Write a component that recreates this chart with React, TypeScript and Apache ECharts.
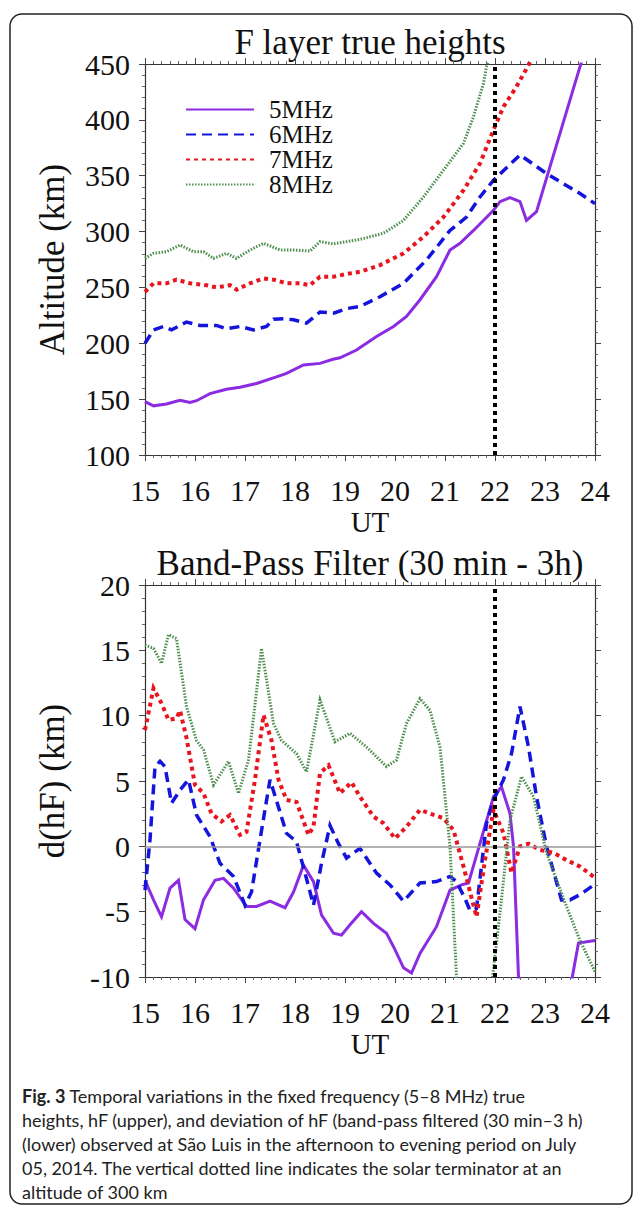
import React, { useEffect, useRef } from 'react';
import * as echarts from 'echarts';

const SERIF = '"Liberation Serif", "Times New Roman", serif';
const SANS = 'Lato, "Noto Sans", sans-serif';

// ---------- Upper panel: F layer true heights (km) ----------
const hT5 = [15, 15.17, 15.43, 15.7, 15.9, 16.03, 16.3, 16.63, 16.9, 17.23, 17.63, 17.83, 18.17, 18.5, 18.76, 18.9, 19.23, 19.63, 19.97, 20.23, 20.5, 20.83, 21.1, 21.3, 21.57, 21.97, 22.1, 22.3, 22.5, 22.63, 22.83, 23.7, 24];
const hV5 = [147.7, 144, 145.6, 149, 147, 148.6, 155, 158.8, 160.6, 164, 170, 173, 180.6, 182, 185.7, 187, 194, 206, 215, 224, 239, 259.6, 283.5, 289.5, 301, 319, 326.8, 330.4, 326.8, 310, 317.8, 447.6, 490];

const hT6 = [15, 15.17, 15.37, 15.53, 15.83, 16.1, 16.43, 16.63, 16.9, 17.17, 17.43, 17.57, 17.77, 17.97, 18.23, 18.5, 18.77, 19.03, 19.3, 19.7, 20.17, 20.63, 21.1, 21.43, 21.7, 21.97, 22.5, 23.03, 23.7, 24];
const hV6 = [200, 212, 215, 212, 219, 216, 216, 213, 215, 212, 215, 221.5, 222, 221, 218, 228, 227, 231, 233, 241.7, 253.7, 274.6, 301, 313, 331, 346, 368.6, 352, 334, 325];

const hT7 = [15, 15.17, 15.43, 15.63, 15.9, 16.23, 16.43, 16.7, 16.83, 17.1, 17.37, 17.57, 17.83, 18.1, 18.3, 18.5, 18.77, 19.03, 19.3, 19.7, 20.17, 20.57, 20.97, 21.37, 21.7, 21.97, 22.17, 22.43, 22.67, 23];
const hV7 = [246, 253.7, 253.7, 257, 253.7, 252, 250, 252, 248, 253.7, 258, 257, 253.7, 253.7, 252, 259.6, 259.6, 262, 264, 270, 280.5, 295.4, 313, 337, 361, 391, 411.8, 429.7, 449, 485];

const hT8 = [15, 15.17, 15.43, 15.7, 15.97, 16.17, 16.37, 16.63, 16.83, 17.1, 17.37, 17.7, 17.97, 18.3, 18.5, 18.77, 19.03, 19.3, 19.77, 20.17, 20.57, 20.97, 21.37, 21.57, 21.77, 21.83, 22];
const hV8 = [276, 280.5, 282, 288, 282, 282, 276, 280.5, 276, 283.5, 289.5, 283.5, 283.5, 282.6, 291, 289, 291, 293, 298.5, 310, 331, 355, 379, 402.8, 432.7, 447.6, 475];

// ---------- Lower panel: band-pass filtered d(hF) (km) ----------
const dT5 = [15, 15.17, 15.33, 15.5, 15.67, 15.8, 16.0, 16.17, 16.4, 16.57, 16.77, 17.03, 17.23, 17.5, 17.8, 17.97, 18.17, 18.37, 18.53, 18.77, 18.93, 19.1, 19.33, 19.57, 19.83, 20.0, 20.17, 20.33, 20.5, 20.83, 21.1, 21.33, 21.47, 21.7, 21.97, 22.13, 22.3, 22.37, 22.5, 23.45, 23.67, 24];
const dV5 = [-2.6, -4.1, -5.4, -3.2, -2.6, -5.6, -6.3, -4.1, -2.6, -2.45, -3.2, -4.6, -4.6, -4.2, -4.7, -3.5, -1.45, -2.7, -5.25, -6.65, -6.8, -6.0, -5.0, -5.9, -6.65, -7.9, -9.3, -9.7, -8.2, -6.15, -3.35, -2.95, -2.8, 0.23, 3.8, 4.55, 2.5, 0, -13, -12, -7.4, -7.2];

const dT6 = [15, 15.1, 15.2, 15.3, 15.4, 15.53, 15.7, 15.87, 16.03, 16.3, 16.5, 16.77, 17.0, 17.13, 17.3, 17.5, 17.67, 17.83, 18.03, 18.2, 18.37, 18.53, 18.7, 18.87, 19.03, 19.3, 19.63, 19.9, 20.17, 20.5, 20.83, 21.1, 21.23, 21.4, 21.5, 21.63, 21.83, 21.97, 22.17, 22.33, 22.5, 22.67, 22.83, 23.03, 23.33, 23.5, 23.7, 24];
const dV6 = [-3.35, 0.5, 6.1, 6.5, 6.1, 3.3, 4.3, 5.1, 2.4, 0.74, -1.3, -2.3, -4.5, -3.5, 0.5, 5.1, 3.0, 1.0, 0.36, -2.05, -4.5, -1.3, 1.6, 0.2, -0.9, -0.15, -2.05, -2.95, -4.2, -2.8, -2.7, -2.3, -2.7, -4.0, -4.9, -4.75, 1.75, 3.55, 5.1, 7.1, 10.7, 7.6, 3.8, 0, -4.1, -4.1, -3.7, -2.9];

const dT7 = [15, 15.17, 15.33, 15.47, 15.63, 15.7, 15.83, 16.0, 16.17, 16.33, 16.53, 16.7, 16.9, 17.03, 17.2, 17.37, 17.53, 17.67, 17.83, 18.03, 18.27, 18.37, 18.5, 18.67, 18.9, 19.13, 19.3, 19.57, 19.77, 20.0, 20.23, 20.5, 20.7, 20.97, 21.17, 21.37, 21.63, 21.8, 21.97, 22.17, 22.33, 22.5, 22.67, 22.9, 23.17, 23.43, 23.7, 24];
const dV7 = [8.9, 12.1, 10.95, 9.67, 9.8, 10.4, 8.3, 4.7, 4.06, 2.5, 1.9, 2.4, 0.87, 1.1, 5.1, 10.05, 8.1, 5.1, 3.55, 3.4, 0.87, 1.5, 5.6, 6.2, 4.06, 4.9, 3.8, 2.27, 1.77, 0.6, 1.5, 2.8, 2.5, 2.15, 1.25, -1.55, -5.4, -1.05, 2.8, 1.0, -2.05, 0.0, 0.2, -0.28, -0.5, -1.05, -1.55, -2.4];

const dT8 = [15, 15.17, 15.33, 15.47, 15.63, 15.83, 16.03, 16.17, 16.37, 16.67, 16.87, 17.07, 17.33, 17.57, 17.73, 18.03, 18.23, 18.5, 18.8, 19.1, 19.43, 19.83, 20.03, 20.23, 20.5, 20.7, 20.9, 21.1, 21.23, 21.3, 21.8, 22.1, 22.3, 22.53, 22.77, 23.03, 23.43, 23.7, 24];
const dV8 = [15.4, 15.15, 14.0, 16.2, 15.9, 10.7, 8.1, 7.4, 4.7, 6.5, 4.06, 6.6, 15.15, 9.4, 8.1, 7.1, 5.7, 11.2, 8.0, 8.65, 7.6, 6.1, 6.6, 9.4, 11.3, 10.4, 7.6, 0, -10, -15, -15, -5.1, 2, 5.33, 3.8, -0.5, -4.6, -7.2, -9.6];

const seriesNames = ['5MHz', '6MHz', '7MHz', '8MHz'];
const terminatorUT = 22;

const titleTop = 'F layer true heights';
const titleBottom = 'Band-Pass Filter (30 min - 3h)';
const captionLines = [
  '{b|Fig. 3} Temporal variations in the fixed frequency (5–8 MHz) true',
  'heights, hF (upper), and deviation of hF (band-pass filtered (30 min–3 h)',
  '(lower) observed at São Luis in the afternoon to evening period on July',
  '05, 2014. The vertical dotted line indicates the solar terminator at an',
  'altitude of 300 km',
];

const zip = (xs: number[], ys: number[]) => xs.slice(0, Math.min(xs.length, ys.length)).map((x, i) => [x, ys[i]]);

const lineStyles: Record<string, any> = {
  '5MHz': { color: '#8B2BE2', width: 3, type: 'solid' },
  '6MHz': { color: '#1414DC', width: 3.5, type: [10, 6] },
  '7MHz': { color: '#E8141E', width: 4, type: [4, 4] },
  '8MHz': { color: '#4E8E4E', width: 3, type: [1.5, 1.5] },
};

function makeXAxis(gridIndex: number, position: 'top' | 'bottom', withLabels: boolean) {
  return {
    type: 'value',
    gridIndex,
    position,
    min: 15,
    max: 24,
    interval: 1,
    name: withLabels ? 'UT' : '',
    nameLocation: 'middle',
    nameGap: 52,
    nameTextStyle: { fontFamily: SERIF, fontSize: 29, color: '#111' },
    axisLine: { show: true, onZero: false, lineStyle: { color: '#333', width: 1.2 } },
    axisTick: { show: true, inside: false, length: 6, lineStyle: { color: '#444', width: 1 } },
    minorTick: { show: true, splitNumber: 6, length: 3, lineStyle: { color: '#666', width: 1 } },
    axisLabel: { show: withLabels, fontFamily: SERIF, fontSize: 30, color: '#111', margin: 20 },
    splitLine: { show: false },
    minorSplitLine: { show: false },
  };
}

function makeYAxis(gridIndex: number, position: 'left' | 'right', min: number, max: number, interval: number, name: string, withLabels: boolean) {
  return {
    type: 'value',
    gridIndex,
    position,
    min,
    max,
    interval,
    name: withLabels ? name : '',
    nameLocation: 'middle',
    nameGap: 75,
    nameTextStyle: { fontFamily: SERIF, fontSize: 35, color: '#111' },
    axisLine: { show: true, onZero: false, lineStyle: { color: '#333', width: 1.2 } },
    axisTick: { show: true, inside: false, length: 6, lineStyle: { color: '#444', width: 1 } },
    minorTick: { show: true, splitNumber: 5, length: 3, lineStyle: { color: '#666', width: 1 } },
    axisLabel: { show: withLabels, fontFamily: SERIF, fontSize: 30, color: '#111', margin: 15 },
    splitLine: { show: false },
    minorSplitLine: { show: false },
  };
}

function lineSeries(name: string, xs: number[], ys: number[], axisIdx: number, extra: any = {}) {
  return {
    type: 'line',
    name,
    xAxisIndex: axisIdx,
    yAxisIndex: axisIdx,
    data: zip(xs, ys),
    symbol: 'none',
    showSymbol: false,
    clip: true,
    lineStyle: { ...lineStyles[name], cap: 'butt', join: 'miter' },
    itemStyle: { color: lineStyles[name].color },
    emphasis: { disabled: true },
    ...extra,
  };
}

const dottedLine = {
  silent: true,
  symbol: 'none',
  label: { show: false },
  animation: false,
  lineStyle: { color: '#000', width: 4, type: [4, 4], cap: 'butt' },
  data: [{ xAxis: terminatorUT }],
};

export default function App() {
  const ref = useRef<HTMLDivElement>(null);
  useEffect(() => {
    document.body.style.margin = '0';
    const chart = echarts.init(ref.current!, null, { renderer: 'svg', width: 636, height: 1207 });
    const option: any = {
      animation: false,
      backgroundColor: '#fff',
      grid: [
        { left: 145, top: 64, width: 450, height: 391, containLabel: false },
        { left: 145, top: 585, width: 450, height: 392, containLabel: false },
      ],
      xAxis: [
        makeXAxis(0, 'bottom', true),
        makeXAxis(0, 'top', false),
        makeXAxis(1, 'bottom', true),
        makeXAxis(1, 'top', false),
      ],
      yAxis: [
        makeYAxis(0, 'left', 100, 450, 50, 'Altitude (km)', true),
        makeYAxis(0, 'right', 100, 450, 50, '', false),
        makeYAxis(1, 'left', -10, 20, 5, 'd(hF) (km)', true),
        makeYAxis(1, 'right', -10, 20, 5, '', false),
      ],
      legend: {
        show: true,
        orient: 'vertical',
        left: 185,
        top: 97,
        padding: 0,
        itemGap: 0,
        itemWidth: 68,
        itemHeight: 10,
        selectedMode: false,
        data: seriesNames,
        itemStyle: { opacity: 0 },
        textStyle: { fontFamily: SERIF, fontSize: 25, color: '#111', lineHeight: 22, padding: [0, 0, 0, 10] },
      },
      graphic: [
        {
          type: 'rect',
          shape: { x: 10, y: 14, width: 622, height: 1190, r: 12 },
          style: { fill: 'none', stroke: '#222', lineWidth: 1.5 },
          silent: true,
          z: -10,
        },
        {
          type: 'text',
          x: 370,
          y: 42,
          style: { text: titleTop, fontFamily: SERIF, fontSize: 35, fill: '#111', align: 'center', verticalAlign: 'middle' },
        },
        {
          type: 'text',
          x: 370,
          y: 563,
          style: { text: titleBottom, fontFamily: SERIF, fontSize: 35, fill: '#111', align: 'center', verticalAlign: 'middle' },
        },
        ...captionLines.map((t, i) => ({
          type: 'text',
          x: 22,
          y: 1096 + i * 24,
          style: {
            text: t,
            fontFamily: SANS,
            fontSize: 18,
            fill: '#222',
            align: 'left',
            verticalAlign: 'middle',
            rich: { b: { fontFamily: SANS, fontSize: 18, fontWeight: 'bold', fill: '#222' } },
          },
        })),
      ],
      series: [
        lineSeries('5MHz', hT5, hV5, 0),
        lineSeries('6MHz', hT6, hV6, 0),
        lineSeries('7MHz', hT7, hV7, 0),
        lineSeries('8MHz', hT8, hV8, 0, { markLine: dottedLine }),
        lineSeries('5MHz', dT5, dV5, 2, {
          markLine: {
            silent: true,
            symbol: 'none',
            label: { show: false },
            lineStyle: { color: '#9a9a9a', width: 1.5, type: 'solid' },
            data: [{ yAxis: 0 }],
          },
        }),
        lineSeries('6MHz', dT6, dV6, 2),
        lineSeries('7MHz', dT7, dV7, 2),
        lineSeries('8MHz', dT8, dV8, 2, { markLine: dottedLine }),
      ],
    };
    chart.setOption(option);
    return () => chart.dispose();
  }, []);
  return <div ref={ref} style={{ width: 636, height: 1207 }} />;
}
